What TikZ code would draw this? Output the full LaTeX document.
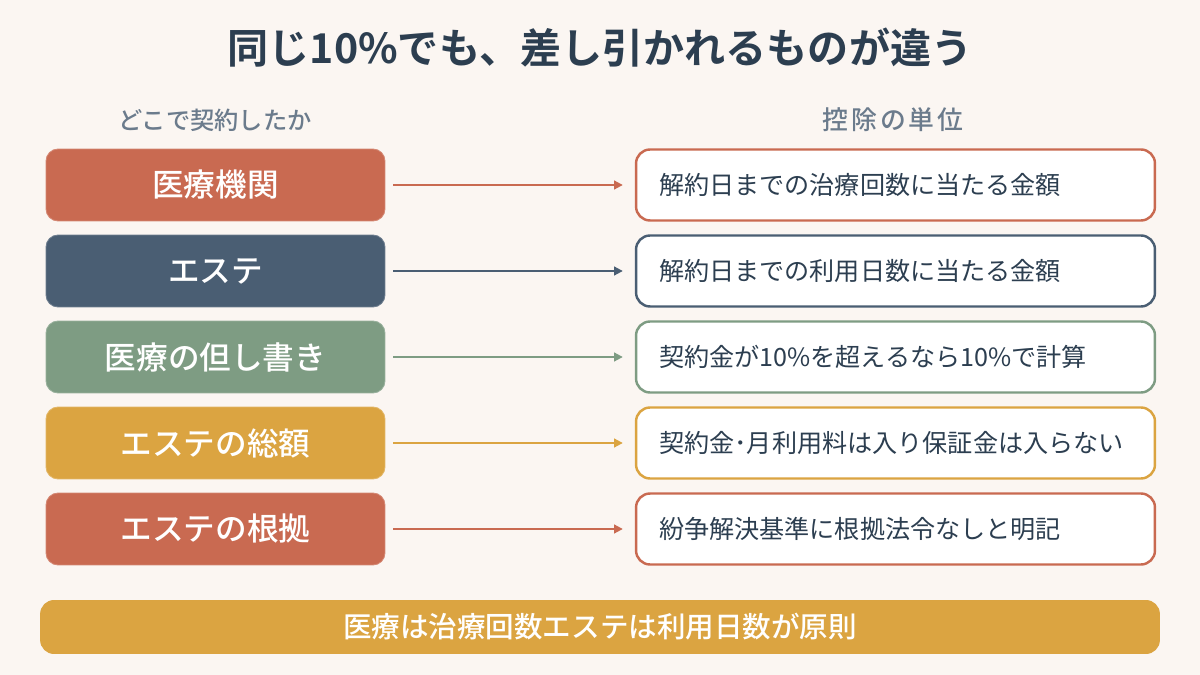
\documentclass[tikz,border=0pt]{standalone}
\usepackage{fontspec}
\setmainfont{Noto Sans CJK JP}[BoldFont={Noto Sans CJK JP Medium}]
\newfontfamily\heavyfont{Noto Sans CJK JP Bold}
\usepackage{tikz}
\usetikzlibrary{arrows.meta}

\definecolor{bgcream}{HTML}{FBF6F2}
\definecolor{terra}{HTML}{C96A51}
\definecolor{slate}{HTML}{4A5E73}
\definecolor{sage}{HTML}{7E9C83}
\definecolor{mustard}{HTML}{DBA441}
\definecolor{ink}{HTML}{2C3E50}
\definecolor{subgray}{HTML}{6B7B8C}

\tikzset{
  placebox/.style={rounded corners=0.24cm,fill=#1,draw=#1!80!white,line width=0.5pt,
    minimum width=6.78cm,minimum height=1.44cm,text=white,
    font=\fontsize{18}{21}\selectfont\bfseries},
  unitbox/.style={rounded corners=0.28cm,fill=white,draw=#1,line width=1.4pt,
    minimum width=10.38cm,minimum height=1.42cm,text width=9.46cm,align=left,
    inner xsep=0.46cm,text=ink,font=\fontsize{14.3}{17}\selectfont},
  linkarrow/.style={draw=#1,line width=1.1pt,-{Triangle[length=5pt,width=5pt]},
    shorten <=0.16cm,shorten >=0.24cm},
  colhead/.style={text=subgray,font=\fontsize{13.8}{16}\selectfont\bfseries},
}

\begin{document}
\begin{tikzpicture}[x=0.02cm,y=-0.02cm]
        % background
        \fill[bgcream] (0,0) rectangle (1200,675);
        % title and column heads
        \node[text=ink,font=\fontsize{23.4}{27}\selectfont\heavyfont] (title) at (600,48) {同じ10\%でも、差し引かれるものが違う};
        \node[colhead] (headL) at (215,120) {どこで契約したか};
        \node[colhead,font=\fontsize{14.7}{17}\selectfont\bfseries] (headR) at (893,120) {控\hspace{0.12em}除\hspace{0.12em}の\hspace{0.12em}単\hspace{0.12em}位};
        % rows
        \foreach \i/\c/\l/\r [evaluate=\i as \y using 99+86*\i] in {
            1/terra/医療機関/解約日までの治療回数に当たる金額,
            2/slate/エステ/解約日までの利用日数に当たる金額,
            3/sage/医療の但し書き/契約金が10\%を超えるなら10\%で計算,
            4/mustard/エステの総額/契約金･月利用料は入り保証金は入らない,
            5/terra/エステの根拠/紛争解決基準に根拠法令なしと明記}{
          \node[placebox=\c] (L\i) at (215.5,\y) {\l};
          \node[unitbox=\c] (R\i) at (895.5,\y) {\r};
          \draw[linkarrow=\c] (L\i.east) -- (R\i.west);
        }
        % summary bar
        \node[rounded corners=0.28cm,fill=mustard,minimum width=22.4cm,minimum height=1.08cm,
              text=white,font=\fontsize{16.25}{19}\selectfont\bfseries] (summary) at (600,627)
              {医療は治療回数エステは利用日数が原則};
      \end{tikzpicture}
\end{document}
